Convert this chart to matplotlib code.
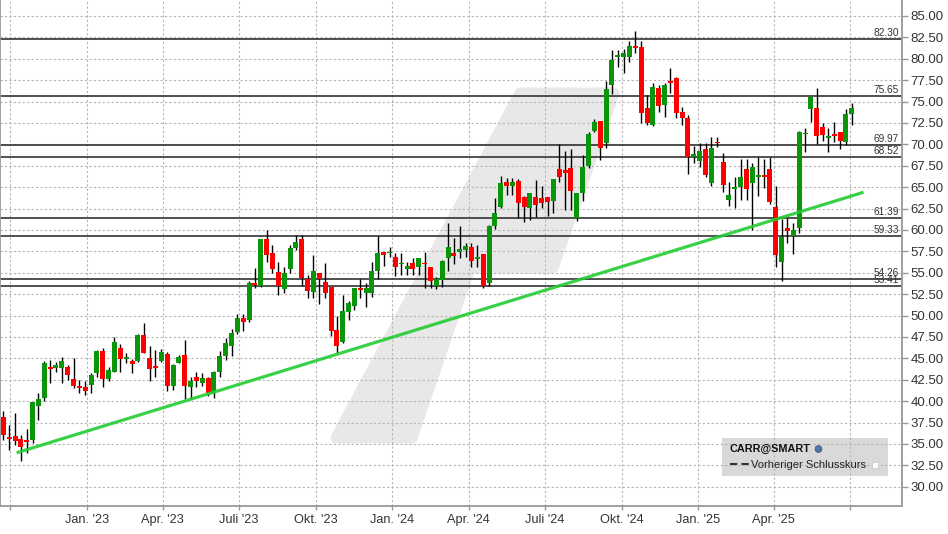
import matplotlib
matplotlib.use("Agg")
import matplotlib.pyplot as plt
import matplotlib.dates as mdates
from matplotlib.patches import Rectangle, Polygon, Circle
from matplotlib.lines import Line2D
import matplotlib.transforms as mtransforms
import numpy as np
import pandas as pd

plt.rcParams["font.family"] = ["Liberation Sans", "DejaVu Sans"]

# weekly candles, CARR@SMART
start_week = "2022-09-19"
opens = [38.19, 35.85, 35.93, 35.60, 35.50, 35.46, 39.43, 40.40, 44.00, 43.90,
         43.90, 44.00, 42.60, 41.80, 41.65, 41.90, 43.30, 45.85, 42.60, 43.45,
         46.20, 44.95, 44.70, 44.70, 47.70, 45.05, 44.15, 44.70, 45.50, 41.80,
         44.50, 45.40, 41.60, 42.80, 42.15, 42.70, 41.00, 43.40, 45.30, 46.45,
         48.10, 49.70, 49.47, 53.83, 53.45, 58.90, 57.34, 55.12, 53.09, 55.43,
         57.84, 58.93, 54.22, 52.78, 55.00, 53.95, 53.36, 48.30, 46.94, 50.44,
         51.10, 53.25, 52.66, 52.66, 55.20, 57.45, 57.26, 56.87, 55.97, 55.47,
         56.17, 55.62, 56.17, 55.62, 53.45, 54.11, 56.68, 57.34, 57.46, 57.66,
         57.97, 56.60, 57.19, 53.84, 60.50, 62.72, 65.56, 65.17, 65.76, 63.81,
         62.53, 63.88, 63.69, 63.88, 63.42, 67.12, 67.00, 67.20, 61.35, 64.35,
         67.47, 71.56, 72.73, 70.19, 76.93, 80.24, 80.24, 80.24, 81.49, 81.41,
         74.20, 72.25, 76.54, 74.59, 77.40, 77.71, 73.81, 73.03, 68.48, 68.09,
         69.41, 65.52, 70.31, 67.97, 63.49, 64.74, 65.05, 67.12, 65.52, 66.14,
         66.41, 67.12, 62.71, 56.29, 60.18, 59.29, 60.18, 71.16, 74.08, 74.20,
         72.06, 70.70, 71.20, 71.48, 70.31, 73.54]
highs = [38.89, 37.20, 38.65, 36.05, 36.75, 39.90, 41.00, 44.73, 44.80, 44.60,
         45.20, 44.20, 45.00, 42.50, 42.35, 43.30, 46.00, 46.20, 44.00, 47.50,
         46.70, 45.65, 44.90, 47.85, 49.10, 46.45, 46.00, 46.05, 45.70, 44.30,
         45.40, 47.15, 42.85, 43.45, 43.25, 42.80, 43.50, 45.90, 47.40, 48.40,
         50.20, 50.20, 54.07, 55.60, 58.95, 60.00, 58.23, 56.28, 55.70, 58.23,
         59.40, 59.40, 54.73, 57.06, 55.00, 56.17, 53.36, 49.94, 52.39, 51.73,
         53.25, 54.22, 53.75, 56.28, 59.28, 57.45, 58.04, 57.34, 57.34, 56.30,
         56.70, 56.75, 57.45, 55.62, 54.46, 56.49, 60.77, 59.02, 60.46, 58.43,
         58.43, 58.24, 57.19, 60.58, 63.77, 66.30, 66.03, 66.03, 65.95, 64.00,
         64.28, 65.83, 65.17, 63.88, 65.95, 70.04, 69.22, 69.45, 64.28, 68.75,
         71.40, 72.92, 72.73, 77.40, 81.02, 81.02, 81.14, 82.07, 83.24, 82.07,
         75.76, 77.12, 76.93, 77.12, 78.90, 77.90, 74.40, 73.42, 69.80, 70.11,
         70.19, 70.89, 70.89, 68.95, 65.64, 66.22, 68.24, 68.24, 67.85, 68.48,
         68.24, 68.48, 65.13, 61.23, 61.35, 60.77, 71.59, 71.87, 75.56, 76.62,
         72.45, 71.87, 72.64, 71.48, 74.08, 74.79]
lows = [35.46, 34.30, 34.90, 33.05, 33.90, 35.15, 37.80, 40.00, 42.10, 43.40,
        42.10, 42.50, 41.50, 40.90, 40.70, 41.00, 42.85, 41.70, 42.30, 43.45,
        43.45, 44.40, 43.30, 44.60, 45.65, 42.30, 42.85, 44.60, 41.20, 41.30,
        44.40, 40.25, 40.30, 41.70, 41.80, 40.60, 40.40, 42.80, 44.80, 45.30,
        47.80, 48.20, 49.30, 53.25, 53.30, 56.30, 54.92, 52.39, 52.66, 54.92,
        57.60, 53.45, 52.10, 52.10, 51.40, 52.10, 47.60, 45.58, 46.74, 49.47,
        50.64, 52.10, 51.03, 52.20, 54.22, 55.78, 56.87, 54.61, 54.73, 54.70,
        54.70, 54.70, 53.17, 53.17, 53.10, 53.37, 55.24, 55.98, 56.76, 56.88,
        55.63, 55.63, 53.26, 53.49, 60.11, 62.60, 64.08, 64.08, 61.43, 60.89,
        61.16, 61.55, 62.53, 61.67, 61.94, 65.64, 62.33, 62.33, 61.08, 63.38,
        67.27, 71.48, 68.17, 69.61, 75.88, 79.07, 78.30, 79.58, 80.63, 72.45,
        72.30, 72.14, 73.81, 73.15, 76.03, 73.03, 72.25, 66.53, 67.85, 67.31,
        66.14, 65.13, 69.65, 64.47, 62.79, 62.60, 63.49, 63.49, 59.99, 63.96,
        64.86, 63.03, 55.70, 54.07, 58.51, 57.19, 59.68, 69.14, 72.64, 70.04,
        70.43, 69.14, 70.31, 69.41, 69.92, 72.25]
closes = [36.04, 35.60, 35.40, 34.60, 35.25, 39.90, 40.25, 44.42, 43.80, 44.20,
          44.70, 43.00, 41.80, 41.55, 41.20, 43.05, 45.90, 42.60, 43.65, 46.95,
          44.90, 45.20, 44.30, 47.70, 45.65, 43.80, 43.90, 45.70, 41.80, 44.20,
          45.20, 41.80, 42.35, 42.35, 42.65, 40.90, 43.40, 45.30, 46.75, 47.95,
          49.70, 49.30, 53.83, 53.60, 58.90, 57.06, 55.39, 53.45, 55.00, 57.92,
          58.62, 54.42, 52.90, 55.20, 54.26, 52.60, 48.22, 46.43, 50.56, 51.49,
          53.25, 52.97, 53.25, 55.20, 57.34, 57.06, 57.45, 55.70, 56.17, 55.78,
          55.47, 56.75, 55.97, 54.03, 54.27, 56.37, 58.04, 56.99, 57.77, 58.16,
          56.41, 56.88, 53.49, 60.50, 61.98, 65.52, 65.17, 65.56, 63.18, 62.72,
          64.28, 62.91, 63.10, 63.22, 65.95, 66.22, 66.69, 64.59, 64.28, 67.35,
          71.21, 72.65, 69.53, 76.42, 79.85, 80.44, 80.63, 81.49, 81.29, 73.70,
          72.50, 76.66, 74.51, 76.93, 77.20, 73.62, 73.03, 68.48, 68.87, 69.22,
          66.41, 69.61, 70.11, 65.25, 64.08, 65.05, 66.14, 64.78, 67.39, 66.41,
          66.14, 63.30, 57.07, 59.21, 59.91, 59.99, 71.48, 71.36, 75.56, 70.97,
          71.09, 70.97, 71.01, 70.43, 73.54, 74.20]

levels = [82.30, 75.65, 69.97, 68.52, 61.39, 59.33, 54.26, 53.41]
level_labels = ["82.30", "75.65", "69.97", "68.52", "61.39", "59.33", "54.26", "53.41"]

trend_dates = ["2022-10-08 12:00", "2025-07-17 12:00"]
trend_values = [33.97, 64.40]

quarter_starts = ["2022-10-01", "2023-01-01", "2023-04-01", "2023-07-01", "2023-10-01",
                  "2024-01-01", "2024-04-01", "2024-07-01", "2024-10-01", "2025-01-01",
                  "2025-04-01", "2025-07-01"]
quarter_labels = ["", "Jan. '23", "Apr. '23", "Juli '23", "Okt. '23", "Jan. '24",
                  "Apr. '24", "Juli '24", "Okt. '24", "Jan. '25", "Apr. '25", ""]

y_ticks = np.arange(30, 85.01, 2.5)

W, H = 948, 534
fig = plt.figure(figsize=(W / 100, H / 100), dpi=100)
ax = fig.add_axes([0, 28 / H, 902 / W, 506 / H])

o = np.array(opens)
c = np.array(closes)
x = mdates.date2num(pd.date_range(start_week, periods=len(o), freq="7D")) + 3.5
up = c >= o
colors = np.where(up, "#0a960a", "#ff0000")

# watermark (pixel coords of plot area -> axes fraction)
wm_px = [(336, 438), (412, 438), (470, 268), (553, 268), (614, 93), (520, 93)]
wm = Polygon([(px / 902, (506 - py) / 506) for px, py in wm_px], closed=True,
             transform=ax.transAxes, facecolor="#e8e8e8", edgecolor="#e8e8e8",
             lw=8, joinstyle="round", zorder=0.2)
ax.add_patch(wm)

# legend box
ax.add_patch(Rectangle((721.7 / 902, (506 - 475.7) / 506), 166 / 902, 38 / 506,
                       transform=ax.transAxes, facecolor="#d9d9d9",
                       edgecolor="none", zorder=0.4))

ax.vlines(x, lows, highs, color="black", lw=1.0, zorder=3)
ax.bar(x, np.abs(c - o), bottom=np.minimum(o, c), width=6.0, color=colors,
       edgecolor="none", zorder=4)

for v in levels:
    ax.axhline(v, color="#333333", lw=1.2, zorder=2)
blend = mtransforms.blended_transform_factory(ax.transAxes, ax.transData)
for v, lab in zip(levels, level_labels):
    ax.text(899 / 902, v + 0.12, lab, transform=blend, ha="right", va="bottom",
            fontsize=7.3, color="#333333", zorder=5)

ax.plot(pd.to_datetime(trend_dates), trend_values, color="#22cc33", lw=2.3,
        alpha=0.9, zorder=5, solid_capstyle="butt")

ax.set_xlim(mdates.date2num(pd.Timestamp("2022-09-18 13:00")),
            mdates.date2num(pd.Timestamp("2025-09-01 12:00")))
ax.set_ylim(27.75, 86.86)

ax.set_xticks(mdates.date2num(pd.to_datetime(quarter_starts)))
ax.set_xticklabels(quarter_labels)
ax.set_yticks(y_ticks)
ax.set_yticklabels([f"{v:.2f}" for v in y_ticks])
ax.yaxis.tick_right()
ax.tick_params(axis="y", length=4, width=1, color="#999999", pad=2,
               labelsize=9.5, labelcolor="#333333")
ax.tick_params(axis="x", length=3, width=1, color="#999999", pad=3,
               labelsize=9.2, labelcolor="#333333")

ax.grid(True, color="#b5b5b5", linestyle=(0, (2, 2)), lw=0.8)
ax.set_axisbelow(True)
for side in ["left", "right", "bottom"]:
    ax.spines[side].set_color("#999999")
    ax.spines[side].set_linewidth(1.3)
ax.spines["top"].set_visible(False)

# legend contents (figure pixel coords)
def fx(px):
    return px / W

def fy(py):
    return 1 - py / H

fig.text(fx(730), fy(448.5), "CARR@SMART", fontsize=7.8, fontweight="bold",
         color="#111111", va="center", ha="left")
fig.patches.append(Circle((818.5 / 100, (H - 449) / 100), 0.034,
                          transform=fig.dpi_scale_trans,
                          facecolor="#4f77a8", edgecolor="#2b4a70", lw=0.5))
fig.lines.append(Line2D([fx(730), fx(750)], [fy(464.3), fy(464.3)],
                        transform=fig.transFigure, color="#333333", lw=1.5,
                        linestyle=(0, (3.5, 2))))
fig.text(fx(751), fy(464.5), "Vorheriger Schlusskurs", fontsize=8,
         color="#222222", va="center", ha="left")
fig.patches.append(Rectangle((fx(872), fy(467.5)), 6 / W, 6 / H,
                             transform=fig.transFigure, facecolor="white",
                             edgecolor="#cccccc", lw=0.6))

fig.savefig("out.png", dpi=100)
